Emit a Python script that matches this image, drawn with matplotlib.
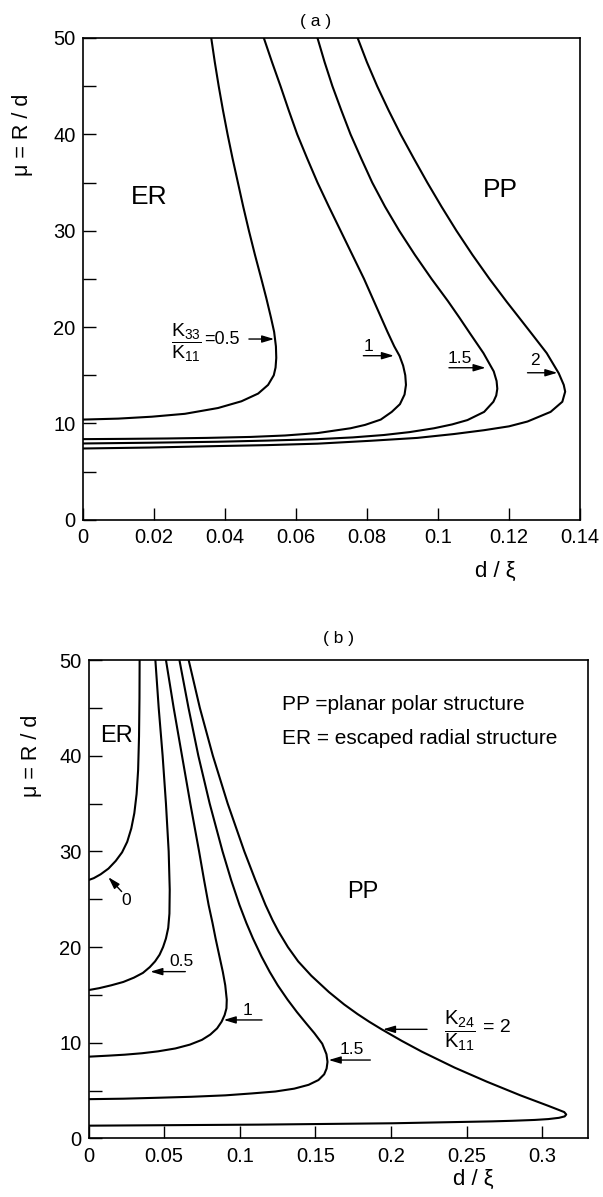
import matplotlib
matplotlib.use("Agg")
import matplotlib.pyplot as plt
from matplotlib import font_manager as fm

# ---------------- data: panel (a), K33/K11 curves (d/xi, mu) ----------------
a_labels = ["0.5", "1", "1.5", "2"]
a05_x = [.0362, .0372, .0383, .0395, .0408, .0422, .0437, .0452, .0468, .0485, .0503, .0517, .0530,
         .0539, .0544, .0545, .0543, .0538, .0522, .0494, .0447, .0381, .0288, .0195, .0100, .0]
a05_mu = [50, 47.5, 45, 42.5, 40, 37.5, 35, 32.5, 30, 27.5, 25, 23, 21,
          19.5, 18, 16.8, 15.8, 15.0, 14.0, 13.1, 12.3, 11.6, 11.0, 10.7, 10.5, 10.4]
a10_x = [.0510, .0533, .0557, .0580, .0604, .0632, .0661, .0693, .0726, .0759, .0792, .0816, .0840,
         .0858, .0877, .0892, .0902, .0908, .0910, .0906, .0893, .0870, .0839, .0795, .0754, .0661,
         .0570, .0473, .0350, .0238, .0120, .0]
a10_mu = [50, 47.5, 45, 42.5, 40, 37.5, 35, 32.5, 30, 27.5, 25, 23, 21,
          19.5, 18, 17, 16, 15, 14, 13, 12, 11.2, 10.4, 9.85, 9.5, 9.0,
          8.75, 8.6, 8.5, 8.44, 8.4, 8.37]
a15_x = [.0661, .0681, .0703, .0728, .0754, .0784, .0815, .0851, .0891, .0935, .0982, .1028, .1060,
         .1091, .1128, .1157, .1165, .1167, .1164, .1156, .1130, .1083, .1040, .0989, .0920, .0848,
         .0760, .0661, .0520, .0379, .0190, .0]
a15_mu = [50, 47.5, 45, 42.5, 40, 37.5, 35, 32.5, 30, 27.5, 25, 22.7, 21,
          19.3, 17.3, 15.4, 14.4, 13.6, 12.9, 12.25, 11.2, 10.35, 9.9, 9.5, 9.1, 8.8,
          8.55, 8.37, 8.22, 8.1, 8.0, 7.92]
a20_x = [.0774, .0800, .0829, .0861, .0895, .0932, .0970, .1010, .1052, .1097, .1145, .1194, .1228,
         .1264, .1306, .1340, .1354, .1358, .1350, .1317, .1252, .1200, .1130, .1045, .0942, .0810,
         .0661, .0520, .0379, .0190, .0]
a20_mu = [50, 47.5, 45, 42.5, 40, 37.5, 35, 32.5, 30, 27.5, 25, 22.6, 21,
          19.3, 17.3, 15.2, 14.0, 13.3, 12.25, 11.2, 10.2, 9.7, 9.3, 8.9, 8.5, 8.2,
          7.9, 7.75, 7.65, 7.5, 7.4]

# ---------------- data: panel (b), K24/K11 curves ----------------
b_labels = ["0", "0.5", "1", "1.5", "2"]
b00_x = [.0338, .0337, .0334, .0328, .0318, .0303, .0283, .0256, .0222, .0180, .0132, .0080, .0035, .0]
b00_mu = [50, 46, 42, 38.5, 36, 34, 32.4, 31, 29.9, 29.0, 28.2, 27.6, 27.2, 27.0]
b05_x = [.0442, .0464, .0490, .0512, .0530, .0537, .0535, .0527, .0512, .0493, .0470, .0440, .0405,
         .0360, .0300, .0230, .0150, .0070, .0]
b05_mu = [50, 45, 40, 35, 30, 26, 23.5, 22, 20.9, 20.0, 19.2, 18.5, 17.9,
          17.3, 16.8, 16.35, 16.0, 15.7, 15.5]
b10_x = [.0512, .0563, .0618, .0673, .0731, .0764, .0794, .0820, .0840, .0866, .0888, .0904, .0914,
         .0912, .0900, .0880, .0850, .0805, .0750, .0670, .0574, .0460, .0354, .0240, .0133, .0]
b10_mu = [50, 45, 40, 35, 30, 27, 24.4, 22.5, 20.9, 19, 17.4, 16, 14.5,
          13.6, 12.9, 12.2, 11.5, 10.85, 10.3, 9.8, 9.4, 9.1, 8.9, 8.75, 8.65, 8.54]
b15_x = [.0601, .0661, .0726, .0801, .0886, .0943, .0998, .1044, .1087, .1144, .1198, .1251, .1316,
         .1378, .1440, .1493, .1545, .1573, .1580, .1574, .1558, .1520, .1455, .1360, .1235, .1080,
         .0905, .0680, .0464, .0230, .0]
b15_mu = [50, 45, 40, 35, 30, 27, 24.4, 22.5, 20.9, 19, 17.4, 16, 14.5,
          13.2, 12.0, 11.0, 9.9, 8.8, 8.0, 7.3, 6.7, 6.1, 5.6, 5.2, 4.9, 4.7,
          4.5, 4.35, 4.25, 4.15, 4.1]
b20_x = [.0662, .0736, .0822, .0920, .1030, .1103, .1170, .1217, .1257, .1318, .1386, .1473, .1589,
         .1690, .1778, .1855, .1938, .2070, .2203, .2420, .2633, .2855, .3040, .3105, .3145, .3158,
         .3148, .3110, .3040, .2950, .2800, .2667, .2006, .1125, .0]
b20_mu = [50, 45, 40, 35, 30, 27, 24.4, 22.8, 21.6, 20, 18.5, 17, 15.3,
          14, 13, 12.2, 11.4, 10.2, 9.07, 7.4, 5.93, 4.5, 3.4, 3.0, 2.75, 2.5,
          2.3, 2.15, 2.02, 1.93, 1.84, 1.78, 1.58, 1.44, 1.33]

a_xticks = [0, 0.02, 0.04, 0.06, 0.08, 0.1, 0.12, 0.14]
a_xticklabels = ["0", "0.02", "0.04", "0.06", "0.08", "0.1", "0.12", "0.14"]
b_xticks = [0, 0.05, 0.1, 0.15, 0.2, 0.25, 0.3]
b_xticklabels = ["0", "0.05", "0.1", "0.15", "0.2", "0.25", "0.3"]
yticks = [0, 10, 20, 30, 40, 50]
yminor = [5, 15, 25, 35, 45]

# ---------------- fonts ----------------
avail = {f.name for f in fm.fontManager.ttflist}
REG = "Liberation Sans" if "Liberation Sans" in avail else "DejaVu Sans"
if "Liberation Sans Narrow" in avail:
    NARROW, TICK_FS = "Liberation Sans Narrow", 15.5
else:
    NARROW, TICK_FS = REG, 14.5
plt.rcParams["font.family"] = [REG, "DejaVu Sans"]
plt.rcParams["mathtext.fontset"] = "custom"
plt.rcParams["mathtext.rm"] = REG

LW = 1.5
fig = plt.figure(figsize=(6.03, 11.97), dpi=100)
W, H = 603.0, 1197.0
ax1 = fig.add_axes([82.6 / W, 1 - 519.8 / H, 497.5 / W, 481.8 / H])
ax2 = fig.add_axes([88.5 / W, 1 - 1138.4 / H, 499.2 / W, 478.4 / H])


def style(ax, xmax, xt, xtl):
    ax.set_xlim(0, xmax)
    ax.set_ylim(0, 50)
    ax.set_xticks(xt)
    ax.set_xticklabels(xtl, fontfamily=[NARROW, "DejaVu Sans"], fontsize=TICK_FS)
    ax.set_yticks(yticks)
    ax.set_yticklabels([str(v) for v in yticks], fontfamily=[NARROW, "DejaVu Sans"],
                       fontsize=TICK_FS)
    ax.set_yticks(yminor, minor=True)
    ax.tick_params(which="both", direction="in", length=9, width=1.0, color="black")
    ax.tick_params(axis="x", pad=6)
    ax.tick_params(axis="y", pad=5)
    for s in ax.spines.values():
        s.set_linewidth(1.2)
    ax.set_ylabel("μ = R / d", fontsize=15.5)
    ax.set_xlabel("d / ξ", fontsize=16)


def arrow(ax, tail, tip):
    ax.annotate("", xy=tip, xytext=tail,
                arrowprops=dict(arrowstyle="-|>,head_length=0.6,head_width=0.18",
                                color="black", lw=1.0, mutation_scale=12,
                                shrinkA=0, shrinkB=0))


# ---------------- panel (a) ----------------
for xs, ys in [(a05_x, a05_mu), (a10_x, a10_mu), (a15_x, a15_mu), (a20_x, a20_mu)]:
    ax1.plot(xs, ys, color="black", lw=LW, solid_joinstyle="round")
style(ax1, 0.14, a_xticks, a_xticklabels)
ax1.yaxis.set_label_coords(-0.10, 0.80)
ax1.xaxis.set_label_coords(0.829, -0.0855)
ax1.text(0.469, 1.0 + 16.5 / 481.8, "( a )", transform=ax1.transAxes, ha="center",
         va="center", fontsize=12.5)
ax1.text(0.0187, 33.5, "ER", ha="center", va="center", fontsize=19)
ax1.text(0.1175, 34.2, "PP", ha="center", va="center", fontsize=19)

ax1.text(0.0293, 18.3, r"$\dfrac{\mathregular{K_{33}}}{\mathregular{K_{11}}}$",
         ha="center", va="center", fontsize=14)
ax1.text(0.0343, 18.72, "=" + a_labels[0], ha="left", va="center", fontsize=13)
arrow(ax1, (0.0468, 18.76), (0.0539, 18.76))
ax1.text(0.0804, 17.96, a_labels[1], ha="center", va="center", fontsize=12.5)
arrow(ax1, (0.0790, 17.03), (0.0876, 17.03))
ax1.text(0.1062, 16.75, a_labels[2], ha="center", va="center", fontsize=12.5)
arrow(ax1, (0.1031, 15.78), (0.1134, 15.78))
ax1.text(0.1272, 16.58, a_labels[3], ha="center", va="center", fontsize=12.5)
arrow(ax1, (0.1252, 15.26), (0.1336, 15.26))

# ---------------- panel (b) ----------------
for xs, ys in [(b00_x, b00_mu), (b05_x, b05_mu), (b10_x, b10_mu), (b15_x, b15_mu),
               (b20_x, b20_mu)]:
    ax2.plot(xs, ys, color="black", lw=LW, solid_joinstyle="round")
style(ax2, 0.33, b_xticks, b_xticklabels)
ax2.yaxis.set_label_coords(-0.093, 0.80)
ax2.xaxis.set_label_coords(0.77, -0.064)
ax2.text(0.50, 1.0 + 22 / 478.4, "( b )", transform=ax2.transAxes, ha="center",
         va="center", fontsize=12.5)
ax2.text(0.0188, 42.1, "ER", ha="center", va="center", fontsize=17)
ax2.text(0.1813, 25.8, "PP", ha="center", va="center", fontsize=17)
ax2.text(0.128, 45.3, "PP =planar polar structure", ha="left", va="center", fontsize=15)
ax2.text(0.128, 41.8, "ER = escaped radial structure", ha="left", va="center", fontsize=15)

ax2.text(0.0246, 24.85, b_labels[0], ha="center", va="center", fontsize=12.5)
arrow(ax2, (0.0219, 25.8), (0.0131, 27.3))
ax2.text(0.0618, 18.47, b_labels[1], ha="center", va="center", fontsize=12.5)
arrow(ax2, (0.0640, 17.43), (0.0409, 17.43))
ax2.text(0.1048, 13.4, b_labels[2], ha="center", va="center", fontsize=12.5)
arrow(ax2, (0.1147, 12.38), (0.0894, 12.38))
ax2.text(0.1738, 9.34, b_labels[3], ha="center", va="center", fontsize=12.5)
arrow(ax2, (0.1863, 8.19), (0.1588, 8.19))
ax2.text(0.2458, 11.3, r"$\dfrac{\mathregular{K_{24}}}{\mathregular{K_{11}}}$",
         ha="center", va="center", fontsize=14.5)
ax2.text(0.2605, 11.55, "= " + b_labels[4], ha="left", va="center", fontsize=14)
arrow(ax2, (0.2238, 11.4), (0.1947, 11.4))

fig.savefig("out.png", dpi=100, facecolor="white")
